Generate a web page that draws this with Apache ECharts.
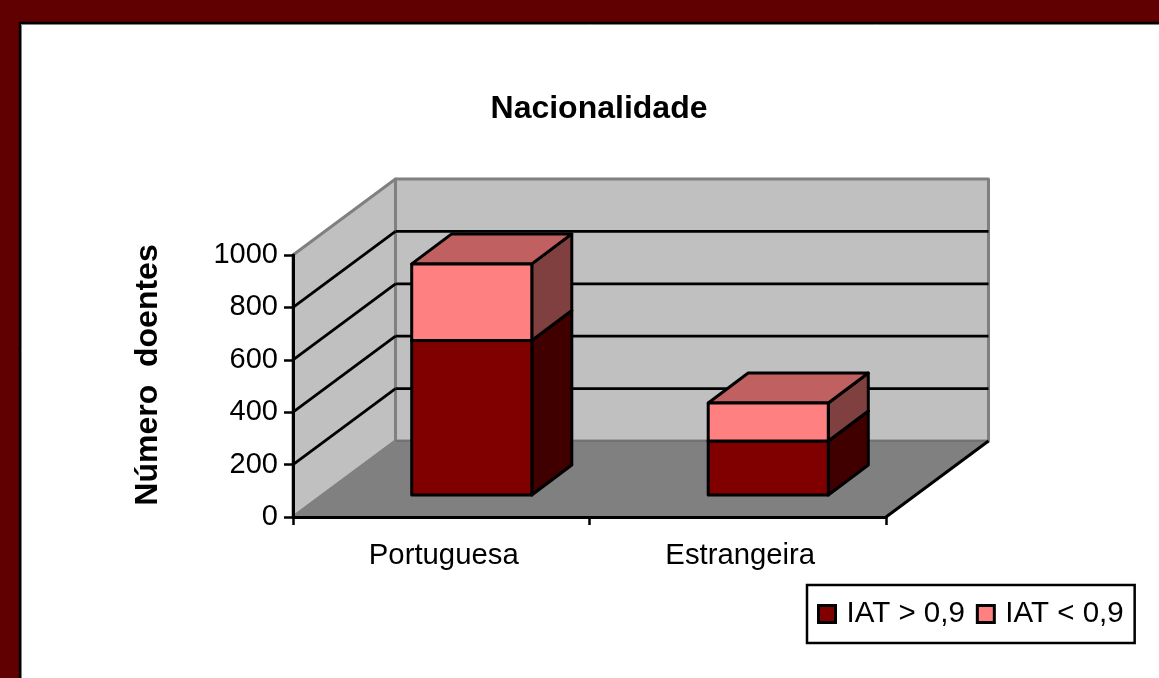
<!DOCTYPE html>
<html>
<head>
<meta charset="utf-8">
<style>html,body{margin:0;padding:0;background:#fff}#c{width:1159px;height:678px}</style>
<script src="https://cdn.jsdelivr.net/npm/echarts@6/dist/echarts.min.js"></script>
</head>
<body>
<div id="c"></div>
<script>
const categories = ['Portuguesa', 'Estrangeira'];
const iatAbove = [590, 206];
const iatBelow = [292, 145];
const yTicks = [0, 200, 400, 600, 800, 1000];
const seriesNames = ['IAT > 0,9', 'IAT < 0,9'];

const FONT = '"Liberation Sans", Arial, sans-serif';
const WALL = [102.5, -76];      // chart depth projected on the screen
const BAR_FRONT = [30.5, -22];  // distance of the bar's front from the front plane
const BAR_DEPTH = [40, -30];    // projected bar depth
const BAR_RATIO = 0.405;

function poly(pts, fill, stroke, lw) {
  return { type: 'polygon', shape: { points: pts },
    style: { fill: fill, stroke: stroke || null, lineWidth: lw || 0, lineJoin: 'round' } };
}
function line(a, b, stroke, lw) {
  return { type: 'line', shape: { x1: a[0], y1: a[1], x2: b[0], y2: b[1] },
    style: { stroke: stroke, lineWidth: lw, fill: null } };
}
const add = (p, d) => [p[0] + d[0], p[1] + d[1]];

function renderRoom(params, api) {
  const r = params.coordSys;
  const x0 = r.x, x1 = r.x + r.width, yB = r.y + r.height, yT = r.y;
  const children = [];
  const fl = [x0, yB], fr = [x1, yB], tl = [x0, yT];
  const bl = add(fl, WALL), br = add(fr, WALL), btl = add(tl, WALL), btr = [br[0], btl[1]];
  children.push(poly([bl, br, btr, btl], '#c0c0c0', '#808080', 3));
  children.push(poly([fl, bl, btl, tl], '#c0c0c0', '#808080', 3));
  children.push(poly([fl, fr, br, bl], '#808080', null, 0));
  children.push(line(fl, bl, '#808080', 2.5));
  children.push(line(bl, br, '#6e6e6e', 1.5));
  children.push(line(fr, br, '#000', 3));
  yTicks.slice(1, -1).forEach(function (t) {
    const y = api.coord([0, t])[1];
    const a = [x0, y], b = add(a, WALL), c = [x1 + WALL[0], b[1]];
    children.push(line(a, b, '#000', 2.8));
    children.push(line(b, c, '#000', 2.8));
  });
  return { type: 'group', children: children };
}

function barRenderer(front, side, top, bases) {
  return function (params, api) {
    const idx = api.value(0), val = api.value(1), base = bases ? bases[idx] : 0;
    const band = api.size([1, 0])[0];
    const w = band * BAR_RATIO;
    const pBot = api.coord([idx, base]), pTop = api.coord([idx, base + val]);
    const lx = pBot[0] - w / 2 + BAR_FRONT[0], rx = lx + w;
    const yb = pBot[1] + BAR_FRONT[1], yt = pTop[1] + BAR_FRONT[1];
    const fbl = [lx, yb], fbr = [rx, yb], ftr = [rx, yt], ftl = [lx, yt];
    return { type: 'group', children: [
      poly([fbr, add(fbr, BAR_DEPTH), add(ftr, BAR_DEPTH), ftr], side, '#000', 3),
      poly([ftl, ftr, add(ftr, BAR_DEPTH), add(ftl, BAR_DEPTH)], top, '#000', 3),
      poly([fbl, fbr, ftr, ftl], front, '#000', 3)
    ] };
  };
}

const chart = echarts.init(document.getElementById('c'), null, { renderer: 'canvas' });
chart.setOption({
  animation: false,
  backgroundColor: '#600000',
  textStyle: { fontFamily: FONT },
  title: { text: 'Nacionalidade', left: 594, top: 88, textAlign: 'center',
    textStyle: { fontFamily: FONT, fontSize: 32, fontWeight: 'bold', color: '#000' } },
  graphic: [
    { type: 'rect', z: -2, shape: { x: 20, y: 23, width: 1160, height: 670 },
      style: { fill: '#fff', stroke: '#000', lineWidth: 2.5 } },
    { type: 'rect', z: -1, shape: { x: 21.5, y: 24.5, width: 1160, height: 670 },
      style: { fill: '#fff', stroke: '#808080', lineWidth: 1 } }
  ],
  legend: { left: 807, top: 585, padding: [14, 11, 14, 10],
    orient: 'horizontal', itemGap: 11, itemWidth: 17, itemHeight: 17,
    backgroundColor: '#fff', borderColor: '#000', borderWidth: 2.5, borderRadius: 0,
    textStyle: { fontFamily: FONT, fontSize: 29.5, color: '#000', padding: [4, 0, 0, 6] },
    data: [
      { name: seriesNames[0], icon: 'rect', itemStyle: { color: '#800000', borderColor: '#000', borderWidth: 3 } },
      { name: seriesNames[1], icon: 'rect', itemStyle: { color: '#ff8080', borderColor: '#000', borderWidth: 3 } }
    ] },
  grid: { left: 293, top: 255, width: 593, height: 262, containLabel: false },
  xAxis: { type: 'category', data: categories, z: 10,
    axisLine: { lineStyle: { color: '#000', width: 3 } },
    axisTick: { show: true, length: 8, lineStyle: { color: '#000', width: 2.5 } },
    axisLabel: { color: '#000', fontSize: 29.3, margin: 24, fontFamily: FONT, padding: [0, 0, 0, 5] },
    splitLine: { show: false } },
  yAxis: { type: 'value', min: 0, max: 1000, interval: 200, z: 10,
    name: 'Número  doentes', nameLocation: 'middle', nameGap: 129, nameRotate: 90,
    nameTextStyle: { fontFamily: FONT, fontSize: 32, fontWeight: 'bold', color: '#000', padding: [0, 0, 0, 22] },
    axisLine: { show: true, lineStyle: { color: '#000', width: 3 } },
    axisTick: { show: true, length: 9, lineStyle: { color: '#000', width: 2.5 } },
    axisLabel: { color: '#000', fontSize: 29, margin: 15, fontFamily: FONT, padding: [6, 0, 0, 0], formatter: function (v) { return String(v); } },
    splitLine: { show: false } },
  series: [
    { type: 'custom', name: '_room', silent: true, z: 1, renderItem: renderRoom, data: [[0, 0]], clip: false,
      encode: { x: 0, y: 1 } },
    { type: 'custom', name: seriesNames[0], z: 3, clip: false, itemStyle: { color: '#800000' },
      renderItem: barRenderer('#800000', '#400000', '#c06060', null),
      encode: { x: 0, y: 1 }, data: iatAbove.map((v, i) => [i, v]) },
    { type: 'custom', name: seriesNames[1], z: 4, clip: false, itemStyle: { color: '#ff8080' },
      renderItem: barRenderer('#ff8080', '#804040', '#c06060', iatAbove),
      encode: { x: 0, y: 1 }, data: iatBelow.map((v, i) => [i, v]) }
  ]
});
</script>
</body>
</html>
